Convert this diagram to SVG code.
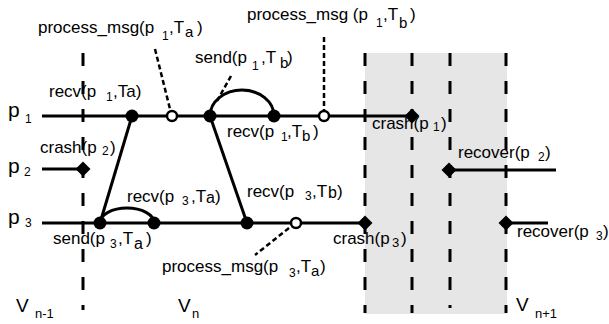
<svg xmlns="http://www.w3.org/2000/svg" width="609" height="324" viewBox="0 0 609 324">
<style>
text{font-family:"Liberation Sans",Arial,sans-serif;font-size:17px;fill:#000}
.sub{font-size:12px}
.sa{font-size:15px}
.big{font-size:21px}
.v{font-size:19px}
.vs{font-size:13px}
.ln{stroke:#000;stroke-width:3;fill:none}
.dv{stroke:#000;stroke-width:3;stroke-dasharray:13 15;fill:none}
.ld{stroke:#000;stroke-width:2.5;stroke-dasharray:5 3;fill:none}
.fc{fill:#000}
.oc{fill:#fff;stroke:#000;stroke-width:2.5}
.dm{fill:#000}
</style>
<rect x="365" y="53" width="142" height="261" fill="#e6e6e6"/>
<g id="boundaries">
<line class="dv" x1="83" y1="53" x2="83" y2="310"/>
<line class="dv" x1="365" y1="53" x2="365" y2="313"/>
<line class="dv" x1="412" y1="53" x2="412" y2="313"/>
<line class="dv" x1="450" y1="53" x2="450" y2="308"/>
<line class="dv" x1="506" y1="53" x2="506" y2="313"/>
</g>
<g id="connectors">
<line class="ln" x1="42" y1="116" x2="412" y2="116"/>
<line class="ln" x1="42" y1="169" x2="83" y2="169"/>
<line class="ln" x1="449" y1="170" x2="556" y2="170"/>
<line class="ln" x1="42" y1="223" x2="365" y2="223"/>
<line class="ln" x1="506" y1="223" x2="548" y2="223"/>
<line class="ln" x1="132" y1="116" x2="100" y2="223"/>
<line class="ln" x1="210" y1="116" x2="247" y2="223"/>
<path class="ln" d="M210,116 A32,26 0 0 1 274,116"/>
<path class="ln" d="M100,223 A27,15 0 0 1 154,223"/>
<line class="ld" x1="155" y1="49" x2="170" y2="109"/>
<line class="ld" x1="231" y1="76" x2="217" y2="101"/>
<line class="ld" x1="324" y1="37" x2="324" y2="110"/>
<line class="ld" x1="289" y1="228" x2="255" y2="255"/>
</g>
<g id="p1-events">
<circle class="fc" cx="132" cy="116" r="6.5"/>
<circle class="oc" cx="172" cy="116" r="5"/>
<circle class="fc" cx="210" cy="116" r="6.5"/>
<circle class="fc" cx="274" cy="116" r="6.5"/>
<circle class="oc" cx="324" cy="116" r="5"/>
<polygon class="dm" points="412,108.5 419.5,116 412,123.5 404.5,116"/>
</g>
<g id="p2-events">
<polygon class="dm" points="83,161.5 90.5,169 83,176.5 75.5,169"/>
<polygon class="dm" points="449,162.5 456.5,170 449,177.5 441.5,170"/>
</g>
<g id="p3-events">
<circle class="fc" cx="100" cy="223" r="6.5"/>
<circle class="fc" cx="154" cy="223" r="6.5"/>
<circle class="fc" cx="247" cy="223" r="6.5"/>
<circle class="oc" cx="296" cy="223" r="5"/>
<polygon class="dm" points="365,215.5 372.5,223 365,230.5 357.5,223"/>
<polygon class="dm" points="506,215.5 513.5,223 506,230.5 498.5,223"/>
</g>
<g id="process-labels">
<text class="big" x="8" y="117">p<tspan class="sub" x="25" y="123">1</tspan></text>
<text class="big" x="8" y="173">p<tspan class="sub" x="24" y="176">2</tspan></text>
<text class="big" x="8" y="224">p<tspan class="sub" x="25" y="227">3</tspan></text>
</g>
<g id="view-labels">
<text class="v" x="16" y="312">V<tspan class="vs" x="35" y="318">n-1</tspan></text>
<text class="v" x="178" y="312">V<tspan class="vs" x="192" y="318">n</tspan></text>
<text class="v" x="516" y="311">V<tspan class="vs" x="535" y="318" font-size="14">n+1</tspan></text>
</g>
<g id="event-labels">
<text x="38" y="33">process_msg(p<tspan class="sub" x="162" y="40">1</tspan><tspan x="169" y="33">,T</tspan><tspan class="sa" x="185" y="37">a</tspan><tspan x="197" y="33">)</tspan></text>
<text x="247" y="20">process_msg (p<tspan class="sub" x="376" y="27">1</tspan><tspan x="383" y="20">,T</tspan><tspan class="sa" x="399" y="28">b</tspan><tspan x="410" y="20">)</tspan></text>
<text x="195" y="63">send(p<tspan class="sub" x="252" y="70">1</tspan><tspan x="261" y="63">,T</tspan><tspan class="sa" x="280" y="68">b</tspan><tspan x="287" y="63">)</tspan></text>
<text x="49" y="97">recv(p<tspan class="sub" x="106" y="101">1</tspan><tspan x="113" y="97">,Ta)</tspan></text>
<text x="40" y="153">crash(p<tspan class="sub" x="102" y="155">2</tspan><tspan x="110" y="153">)</tspan></text>
<text x="227" y="137">recv(p<tspan class="sub" x="281" y="141">1</tspan><tspan x="287" y="137">,T</tspan><tspan class="sa" x="302" y="141">b</tspan><tspan x="313" y="137">)</tspan></text>
<text x="372" y="129">crash(p<tspan class="sub" x="433" y="131">1</tspan><tspan x="441" y="129">)</tspan></text>
<text x="458" y="158">recover(p<tspan class="sub" x="538" y="161">2</tspan><tspan x="545" y="158">)</tspan></text>
<text x="127" y="202">recv(p<tspan class="sub" x="182" y="205">3</tspan><tspan x="191" y="202">,T</tspan><tspan font-size="16" x="206" y="203">a</tspan><tspan x="215" y="202">)</tspan></text>
<text x="247" y="197">recv(p<tspan class="sub" x="305" y="200">3</tspan><tspan x="312" y="197">,T</tspan><tspan font-size="16" x="328" y="198">b</tspan><tspan x="337" y="197">)</tspan></text>
<text x="53" y="244">send(p<tspan class="sub" x="110" y="248">3</tspan><tspan x="118" y="244">,T</tspan><tspan font-size="16" x="134" y="249">a</tspan><tspan x="146" y="244">)</tspan></text>
<text x="162" y="272">process_msg(p<tspan class="sub" x="289" y="277">3</tspan><tspan x="296" y="272">,T</tspan><tspan class="sa" x="311" y="276">a</tspan><tspan x="320" y="272">)</tspan></text>
<text x="333" y="244">crash(p<tspan font-size="13" x="392" y="247">3</tspan><tspan x="401" y="244">)</tspan></text>
<text x="517" y="237">recover(p<tspan class="sub" x="596" y="240">3</tspan><tspan x="603" y="237">)</tspan></text>
</g>
</svg>
